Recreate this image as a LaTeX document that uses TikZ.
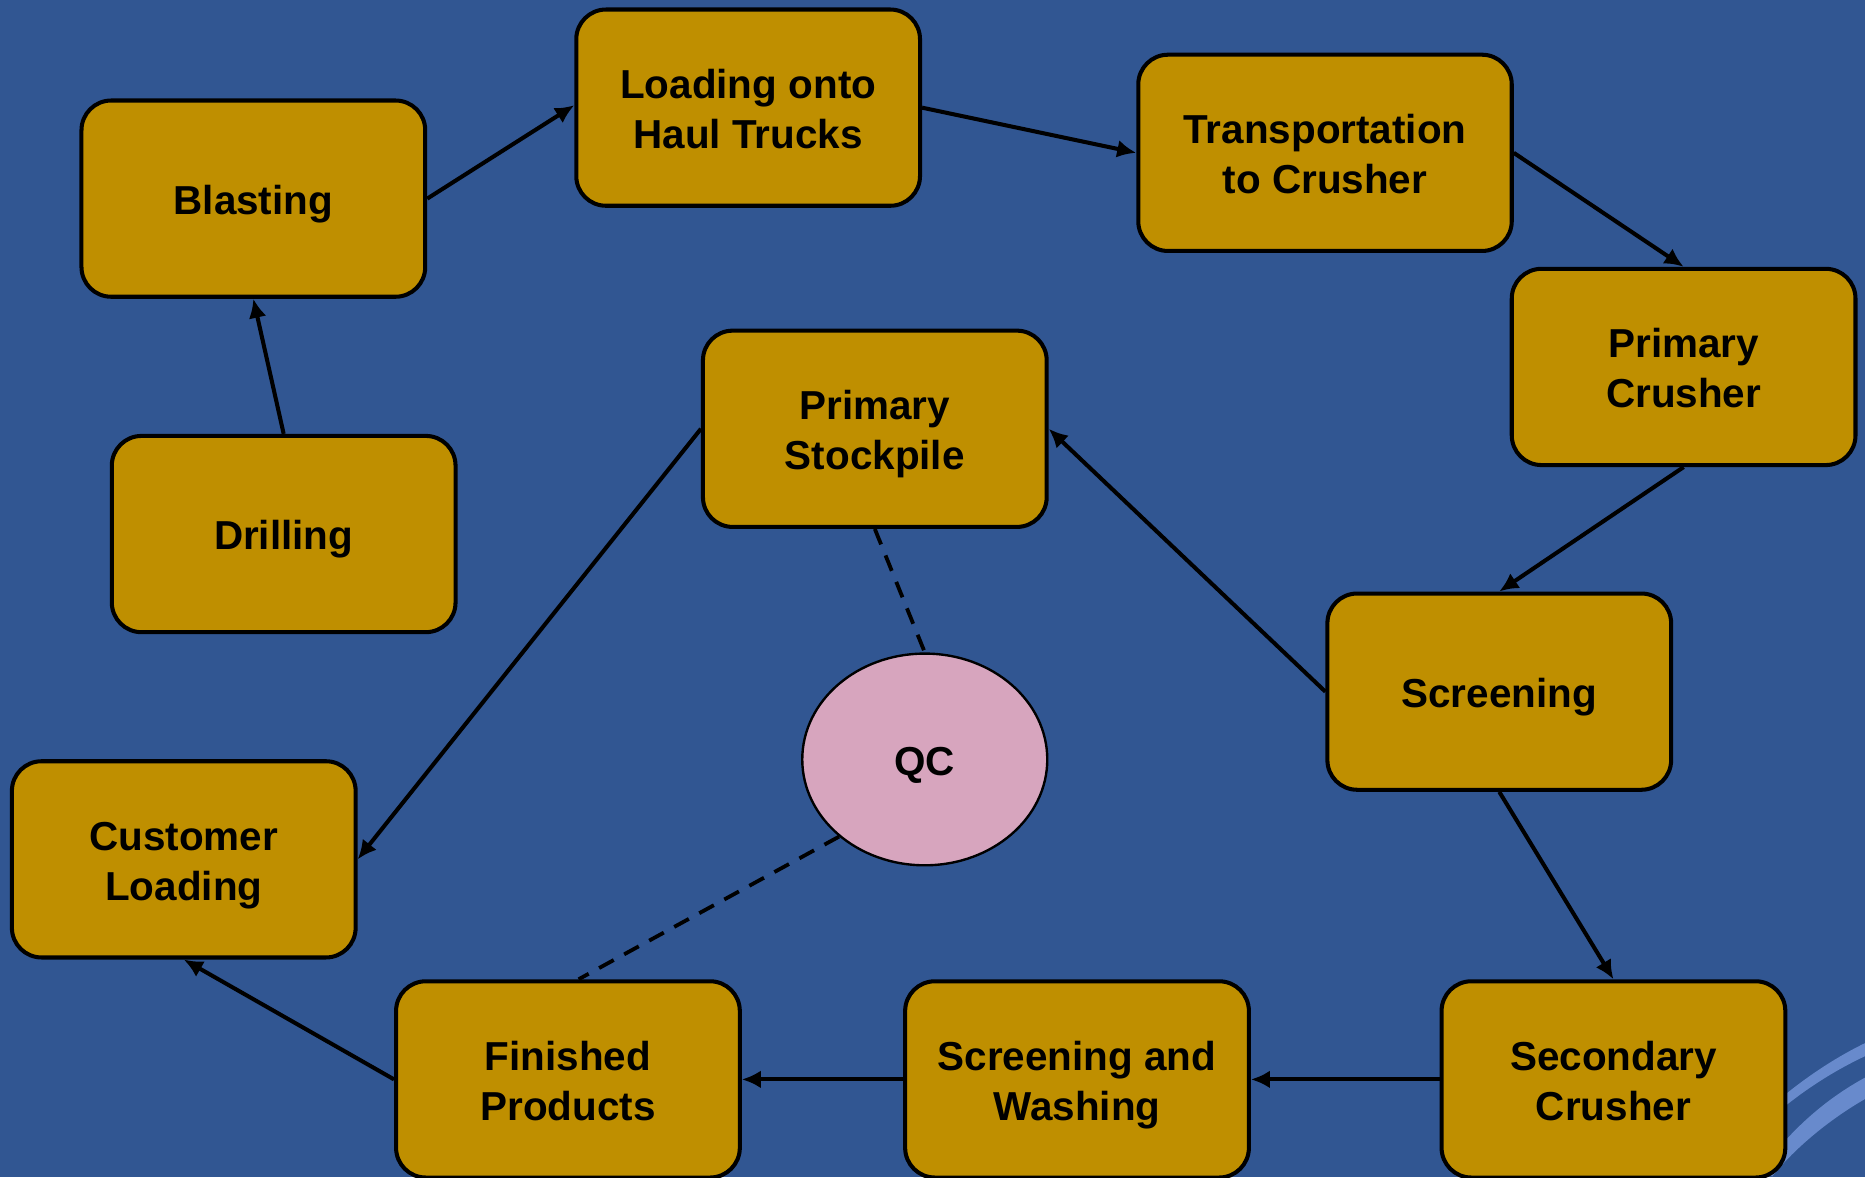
\documentclass[tikz,border=0pt]{standalone}
\usepackage{fontspec}
\setmainfont{Liberation Sans}
\usetikzlibrary{arrows.meta,shapes.geometric}
\definecolor{bgblue}{RGB}{49,86,146}
\definecolor{boxgold}{RGB}{191,143,0}
\definecolor{qcpink}{RGB}{215,165,190}
\definecolor{swoosh}{RGB}{104,138,204}
\newcommand\TopS{\rule{0pt}{16.9pt}}
\newcommand\BotS{\rule[-3.7pt]{0pt}{3.7pt}}
\tikzset{
  stepbox/.style={draw=black, line width=1.7pt, fill=boxgold, rounded corners=12.5pt,
    minimum width=144.5pt, minimum height=82.5pt, inner sep=0pt, align=center,
    font=\bfseries\fontsize{17}{21}\selectfont},
  qcnode/.style={ellipse, draw=black, line width=1pt, fill=qcpink,
    minimum width=103pt, minimum height=89pt, inner sep=0pt,
    font=\bfseries\fontsize{17}{21}\selectfont},
  flow/.style={line width=1.7pt, -{Latex[length=8pt,width=7.5pt]}},
  qcline/.style={line width=1.6pt, dashed, dash pattern=on 7pt off 5pt}
}
\begin{document}
\begin{tikzpicture}[x=0.5pt,y=-0.5pt]
\useasboundingbox (0,0) rectangle (1568,989.6);
\fill[bgblue] (0,0) rectangle (1568,989.6);
% decorative swooshes
\fill[swoosh] (1470,948) .. controls (1500,918) and (1535,893) .. (1568,877)
  -- (1568,888) .. controls (1540,901) and (1505,923) .. (1475,953) -- cycle;
\fill[swoosh] (1480,985) .. controls (1505,950) and (1535,924) .. (1568,906)
  -- (1568,924) .. controls (1540,940) and (1510,964) .. (1490,989) -- cycle;
% nodes
\node[stepbox] (blast) at (213,167) {\TopS Blasting\BotS};
\node[stepbox] (load) at (629,90.5) {\TopS Loading onto\\Haul Trucks\BotS};
\node[stepbox, minimum width=157pt] (trans) at (1114,128.5) {\TopS Transportation\\to Crusher\BotS};
\node[stepbox] (pcrush) at (1415.5,308.5) {\TopS Primary\\Crusher\BotS};
\node[stepbox] (pstock) at (735.5,360.5) {\TopS Primary\\Stockpile\BotS};
\node[stepbox] (drill) at (238.5,449) {\TopS Drilling\BotS};
\node[stepbox] (screen) at (1260.5,581.5) {\TopS Screening\BotS};
\node[qcnode] (qc) at (777.5,638.5) {\TopS QC\BotS};
\node[stepbox] (cust) at (154.5,722.5) {\TopS Customer\\Loading\BotS};
\node[stepbox] (fin) at (477.5,907.5) {\TopS Finished\\Products\BotS};
\node[stepbox] (wash) at (905.5,907.5) {\TopS Screening and\\Washing\BotS};
\node[stepbox] (scrush) at (1356.5,907.5) {\TopS Secondary\\Crusher\BotS};
% connectors
\draw[flow] (drill.north) -- (blast.south);
\draw[flow] (blast.east) -- ([yshift=1pt]load.west);
\draw[flow] (load.east) -- (trans.west);
\draw[flow] (trans.east) -- (pcrush.north);
\draw[flow] (pcrush.south) -- (screen.north);
\draw[flow] (screen.west) -- (pstock.east);
\draw[flow] (pstock.west) -- (cust.east);
\draw[flow] (screen.south) -- (scrush.north);
\draw[flow] (scrush.west) -- (wash.east);
\draw[flow] (wash.west) -- (fin.east);
\draw[flow] (fin.west) -- (cust.south);
\draw[qcline] (pstock.south) -- (qc.north);
\draw[qcline] (qc.222) -- ([xshift=4.5pt]fin.north);
\end{tikzpicture}
\end{document}
